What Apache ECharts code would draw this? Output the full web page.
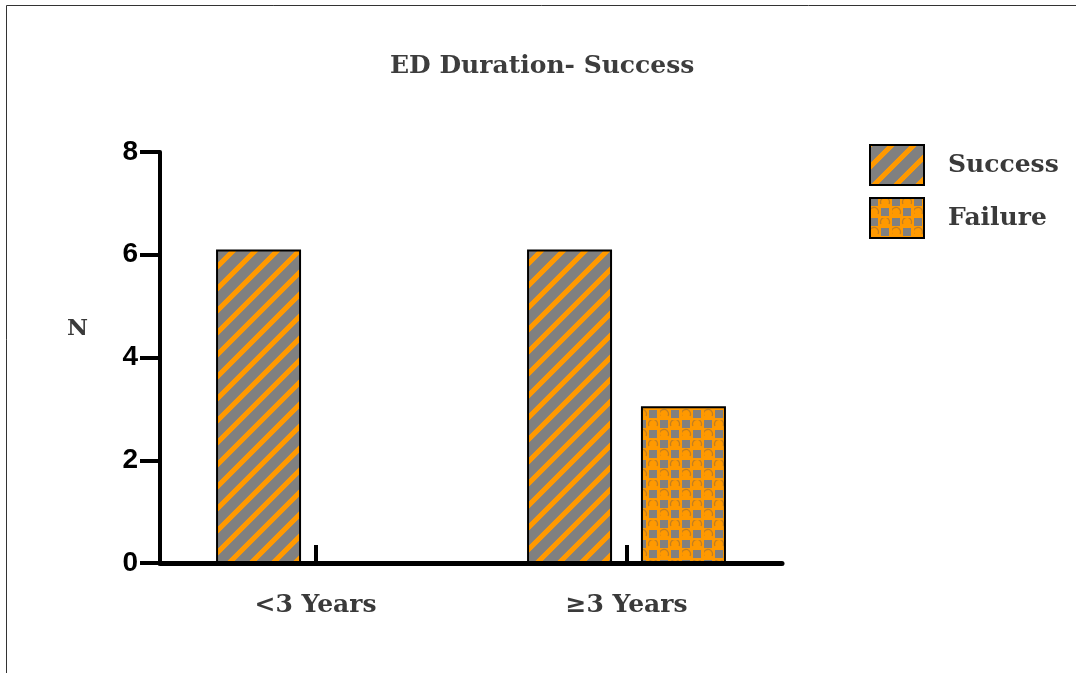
<!DOCTYPE html>
<html>
<head>
<meta charset="utf-8">
<script src="https://cdn.jsdelivr.net/npm/echarts@6/dist/echarts.min.js"></script>
<style>
html,body{margin:0;padding:0;background:#fff;}
#chart{width:1076px;height:673px;}
</style>
</head>
<body>
<div id="chart"></div>
<script>
const categories = ['<3 Years', '≥3 Years'];
const successValues = [6.1, 6.1];
const failureValues = [0, 3.05];
const yTicks = { min: 0, max: 8, interval: 2 };

const ORANGE = [255, 153, 0];
const GRAY = [128, 128, 128];

function stripePattern() {
  const P = 22, W = 3.6;
  const c = document.createElement('canvas');
  c.width = P; c.height = P;
  const g = c.getContext('2d');
  const img = g.createImageData(P, P);
  for (let y = 0; y < P; y++) {
    for (let x = 0; x < P; x++) {
      let d = ((x + y + 1) % P + P) % P;
      d = Math.min(d, P - d) / Math.SQRT2 * Math.SQRT2; // horizontal distance to stripe centre
      let t = Math.max(0, Math.min(1, (W + 0.5 - d)));
      const i = (y * P + x) * 4;
      for (let k = 0; k < 3; k++) img.data[i + k] = Math.round(ORANGE[k] * t + GRAY[k] * (1 - t));
      img.data[i + 3] = 255;
    }
  }
  g.putImageData(img, 0, 0);
  return { image: c, repeat: 'repeat' };
}

function checkPattern() {
  const W = 22, H = 20;
  const c = document.createElement('canvas');
  c.width = W; c.height = H;
  const g = c.getContext('2d');
  g.fillStyle = '#FF9900'; g.fillRect(0, 0, W, H);
  g.fillStyle = '#808080';
  g.fillRect(0, 0, 8, 8);
  g.fillRect(11, 10, 8, 8);
  g.strokeStyle = '#C27F22'; g.lineWidth = 1.3;
  g.beginPath(); g.arc(15, 4, 4.5, Math.PI * 0.85, Math.PI * 2.15); g.stroke();
  g.beginPath(); g.arc(4, 14, 4.5, Math.PI * 0.85, Math.PI * 2.15); g.stroke();
  return { image: c, repeat: 'repeat' };
}

const chart = echarts.init(document.getElementById('chart'), null, { renderer: 'canvas' });
const serif = "'DejaVu Serif', 'Liberation Serif', serif";
const sans = "'Liberation Sans', Arial, sans-serif";

chart.setOption({
  animation: false,
  backgroundColor: '#ffffff',
  title: {
    text: 'ED Duration- Success',
    left: 390,
    top: 54,
    padding: 0,
    textStyle: { fontFamily: serif, fontWeight: 'bold', fontSize: 25, color: '#3d3d3d' }
  },
  legend: {
    orient: 'vertical',
    left: 869,
    top: 144,
    padding: 0,
    itemWidth: 54,
    itemHeight: 40,
    itemGap: 11,
    icon: 'rect',
    data: ['Success', 'Failure'],
    textStyle: { fontFamily: serif, fontWeight: 'bold', fontSize: 25, color: '#3a3a3a', padding: [0, 0, 0, 19] }
  },
  grid: { left: 160, right: 294, top: 152, bottom: 110, containLabel: false },
  xAxis: {
    type: 'category',
    data: categories,
    axisLine: { lineStyle: { color: '#000', width: 5 } },
    axisTick: { show: true, inside: true, length: 18, alignWithLabel: true, lineStyle: { color: '#000', width: 4 } },
    axisLabel: { margin: 30, fontFamily: serif, fontWeight: 'bold', fontSize: 25, color: '#3a3a3a' },
    splitLine: { show: false }
  },
  yAxis: {
    type: 'value',
    min: yTicks.min, max: yTicks.max, interval: yTicks.interval,
    name: 'N',
    nameLocation: 'middle',
    nameGap: 72,
    nameRotate: 0,
    nameTextStyle: { fontFamily: serif, fontWeight: 'bold', fontSize: 23, color: '#3a3a3a', verticalAlign: 'bottom', padding: [0, 0, 17, 0] },
    axisLine: { show: true, lineStyle: { color: '#000', width: 4 } },
    axisTick: { show: true, length: 20, lineStyle: { color: '#000', width: 4 } },
    axisLabel: { margin: 22, fontFamily: sans, fontWeight: 'bold', fontSize: 28, color: '#000' },
    splitLine: { show: false }
  },
  series: [
    {
      name: 'Success', type: 'bar', data: successValues,
      barWidth: 85, barGap: '34%',
      itemStyle: { color: stripePattern(), borderColor: '#000', borderWidth: 2 }
    },
    {
      name: 'Failure', type: 'bar', data: failureValues,
      barWidth: 85, barGap: '34%',
      itemStyle: { color: checkPattern(), borderColor: '#000', borderWidth: 2 }
    }
  ],
  graphic: [
    {
      type: 'polyline',
      shape: { points: [[6.5, 673], [6.5, 5.5], [1076, 5.5]] },
      style: { stroke: '#333', lineWidth: 1, fill: null },
      silent: true
    }
  ]
});
</script>
</body>
</html>
